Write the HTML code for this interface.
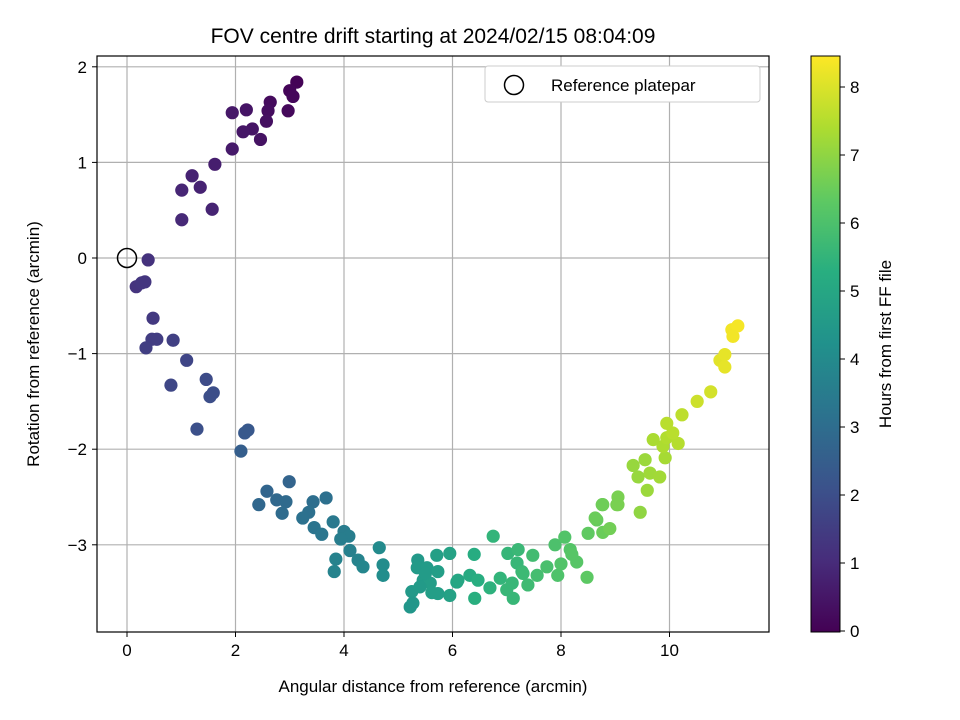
<!DOCTYPE html>
<html><head><meta charset="utf-8"><style>
body{margin:0;background:#fff;}
svg{display:block;font-family:"Liberation Sans","DejaVu Sans",sans-serif;}
</style></head><body>
<svg id="chart" width="960" height="720" viewBox="0 0 960 720">
<defs>
<linearGradient id="vir" x1="0" y1="1" x2="0" y2="0">
<stop offset="0" stop-color="#440154"/><stop offset="0.125" stop-color="#472d7b"/><stop offset="0.25" stop-color="#3b528b"/><stop offset="0.375" stop-color="#2c728e"/><stop offset="0.5" stop-color="#21918c"/><stop offset="0.625" stop-color="#28ae80"/><stop offset="0.75" stop-color="#5ec962"/><stop offset="0.875" stop-color="#addc30"/><stop offset="1" stop-color="#fde725"/>
</linearGradient>
</defs>
<text x="433" y="43" font-size="21" text-anchor="middle">FOV centre drift starting at 2024/02/15 08:04:09</text>
<g id="grid"></g>
<g id="points"></g>
<rect x="97" y="56" width="672" height="576" fill="none" stroke="#000" stroke-width="1.2"/>
<g id="xticks"></g>
<g id="yticks"></g>
<text x="433" y="692" font-size="17" text-anchor="middle">Angular distance from reference (arcmin)</text>
<text transform="translate(39,344) rotate(-90)" font-size="17" text-anchor="middle">Rotation from reference (arcmin)</text>
<g>
<rect x="485" y="66" width="275" height="36" rx="3" fill="#fff" stroke="#ccc"/>
<circle cx="514" cy="85" r="9.5" fill="none" stroke="#000" stroke-width="1.5"/>
<text x="551" y="91" font-size="17">Reference platepar</text>
</g>
<circle id="refpt" r="9.5" fill="none" stroke="#000" stroke-width="1.5"/>
<rect x="811" y="56" width="29" height="576" fill="url(#vir)" stroke="#000" stroke-width="1"/>
<g id="cticks"></g>
<text transform="translate(891,344) rotate(-90)" font-size="17" text-anchor="middle">Hours from first FF file</text>
</svg>
<script>
const xTicks=[0,2,4,6,8,10];
const yTicks=[2,1,0,-1,-2,-3];
const cTicks=[0,1,2,3,4,5,6,7,8];
const distX=[3.13,3.0,3.06,2.97,2.64,2.6,2.57,2.46,2.31,2.14,2.2,1.94,1.94,1.62,1.35,1.2,1.01,1.57,1.01,
0.39,0.17,0.33,0.27,0.48,0.46,0.55,0.35,0.85,1.1,0.81,1.46,1.53,1.59,1.29,2.23,2.17,2.1,
2.99,2.58,2.43,2.76,2.93,2.86,3.43,3.67,3.35,3.24,3.45,3.59,3.8,4.0,4.09,3.94,4.11,4.26,4.35,3.85,3.82,4.65,4.72,4.72,
5.36,5.35,5.53,5.73,5.71,5.95,6.08,5.95,5.73,5.25,5.27,5.22,5.46,5.59,5.4,5.5,5.62,
6.75,6.4,6.1,6.32,6.47,6.41,6.69,6.88,7.02,7.21,7.19,7.28,7.0,7.12,7.39,7.56,7.48,7.74,7.94,7.89,8.07,8.17,8.29,8.48,8.5,8.66,8.77,8.77,9.03,7.1,7.3,8.0,8.2,
8.9,8.63,8.76,9.05,9.05,9.46,9.33,9.55,9.42,9.59,9.64,9.82,9.92,9.88,9.95,9.7,10.16,10.06,9.95,10.23,10.51,10.76,10.93,11.02,11.02,11.15,11.26,11.17];
const rotY=[1.84,1.75,1.69,1.54,1.63,1.54,1.43,1.24,1.35,1.32,1.55,1.52,1.14,0.98,0.74,0.86,0.71,0.51,0.40,
-0.02,-0.30,-0.25,-0.26,-0.63,-0.85,-0.85,-0.94,-0.86,-1.07,-1.33,-1.27,-1.45,-1.41,-1.79,-1.80,-1.83,-2.02,
-2.34,-2.44,-2.58,-2.53,-2.55,-2.67,-2.55,-2.51,-2.66,-2.72,-2.82,-2.89,-2.76,-2.86,-2.91,-2.94,-3.06,-3.16,-3.23,-3.15,-3.28,-3.03,-3.21,-3.32,
-3.16,-3.24,-3.24,-3.28,-3.11,-3.09,-3.39,-3.53,-3.51,-3.49,-3.61,-3.65,-3.37,-3.40,-3.44,-3.30,-3.50,
-2.91,-3.1,-3.37,-3.32,-3.37,-3.56,-3.45,-3.35,-3.09,-3.05,-3.19,-3.28,-3.47,-3.56,-3.42,-3.32,-3.11,-3.23,-3.32,-3.0,-2.92,-3.05,-3.18,-3.34,-2.88,-2.74,-2.58,-2.87,-2.58,-3.4,-3.3,-3.2,-3.1,
-2.83,-2.72,-2.58,-2.5,-2.58,-2.66,-2.17,-2.11,-2.29,-2.43,-2.25,-2.29,-2.09,-1.97,-1.88,-1.9,-1.94,-1.83,-1.73,-1.64,-1.5,-1.4,-1.07,-1.14,-1.01,-0.75,-0.71,-0.82];
const hours=[0.05,0.1,0.15,0.2,0.25,0.3,0.35,0.4,0.45,0.5,0.45,0.55,0.6,0.7,0.8,0.8,0.9,0.85,0.95,
1.2,1.25,1.3,1.3,1.4,1.5,1.5,1.55,1.6,1.75,1.8,1.9,2.0,2.0,2.05,2.3,2.35,2.5,
2.7,2.75,2.8,2.85,2.9,2.95,3.05,3.1,3.1,3.15,3.25,3.3,3.4,3.5,3.55,3.55,3.65,3.75,3.85,3.7,3.75,4.0,4.05,4.1,
4.5,4.55,4.6,4.7,4.75,4.85,4.9,4.8,4.7,4.5,4.45,4.4,4.6,4.65,4.55,4.6,4.7,
5.5,5.2,5.0,5.15,5.25,5.3,5.4,5.5,5.55,5.65,5.6,5.65,5.6,5.6,5.75,5.85,5.8,5.95,6.05,6.0,6.1,6.15,6.2,6.3,6.35,6.45,6.55,6.5,6.65,5.6,5.7,6.1,6.2,
6.6,6.5,6.55,6.7,6.7,7.0,7.1,7.15,7.1,7.15,7.2,7.25,7.3,7.4,7.45,7.35,7.5,7.55,7.55,7.6,7.8,7.9,8.1,8.15,8.15,8.3,8.35,8.3];
const X0=127,XS=54.25,Y0=258,YS=95.6;
const sx=v=>X0+v*XS, sy=v=>Y0-v*YS, sc=h=>631-h*68;
const NS='http://www.w3.org/2000/svg';
const vc=[[68,1,84],[71,45,123],[59,82,139],[44,114,142],[33,145,140],[40,174,128],[94,201,98],[173,220,48],[253,231,37]];
function viridis(t){t=Math.max(0,Math.min(1,t))*8;const i=Math.min(7,Math.floor(t)),f=t-i;const a=vc[i],b=vc[i+1];return 'rgb('+a.map((c,k)=>Math.round(c+(b[k]-c)*f)).join(',')+')';}
function mk(tag,attrs,parent){const e=document.createElementNS(NS,tag);for(const k in attrs)e.setAttribute(k,attrs[k]);parent.appendChild(e);return e;}
const grid=document.getElementById('grid'),xt=document.getElementById('xticks'),yt=document.getElementById('yticks'),ct=document.getElementById('cticks'),pts=document.getElementById('points');
xTicks.forEach(v=>{const x=sx(v);
const g=mk('line',{x1:x,x2:x,y1:56,y2:632,stroke:'#b0b0b0','stroke-width':1.2},grid);


const t=mk('line',{x1:x,x2:x,y1:632,y2:637,stroke:'#000'},xt);


const l=mk('text',{x:x,y:656,'font-size':17,'text-anchor':'middle'},xt);l.textContent=String(v);

});
yTicks.forEach(v=>{const y=sy(v);
const g=mk('line',{x1:97,x2:769,y1:y,y2:y,stroke:'#b0b0b0','stroke-width':1.2},grid);


const t=mk('line',{x1:92,x2:97,y1:y,y2:y,stroke:'#000'},yt);


const l=mk('text',{x:87,y:y+6,'font-size':17,'text-anchor':'end'},yt);l.textContent=v<0?'\u2212'+(-v):String(v);

});
cTicks.forEach(v=>{const y=sc(v);
const t=mk('line',{x1:840,x2:845,y1:y,y2:y,stroke:'#000'},ct);


const l=mk('text',{x:850,y:y+6,'font-size':17},ct);l.textContent=String(v);

});
const maxH=8.45;
distX.forEach((x,i)=>{const c=mk('circle',{cx:sx(x),cy:sy(rotY[i]),r:6.6,fill:viridis(hours[i]/maxH)},pts);

});
const r=document.getElementById('refpt');r.setAttribute('cx',sx(0));r.setAttribute('cy',sy(0));
</script>
</body></html>
